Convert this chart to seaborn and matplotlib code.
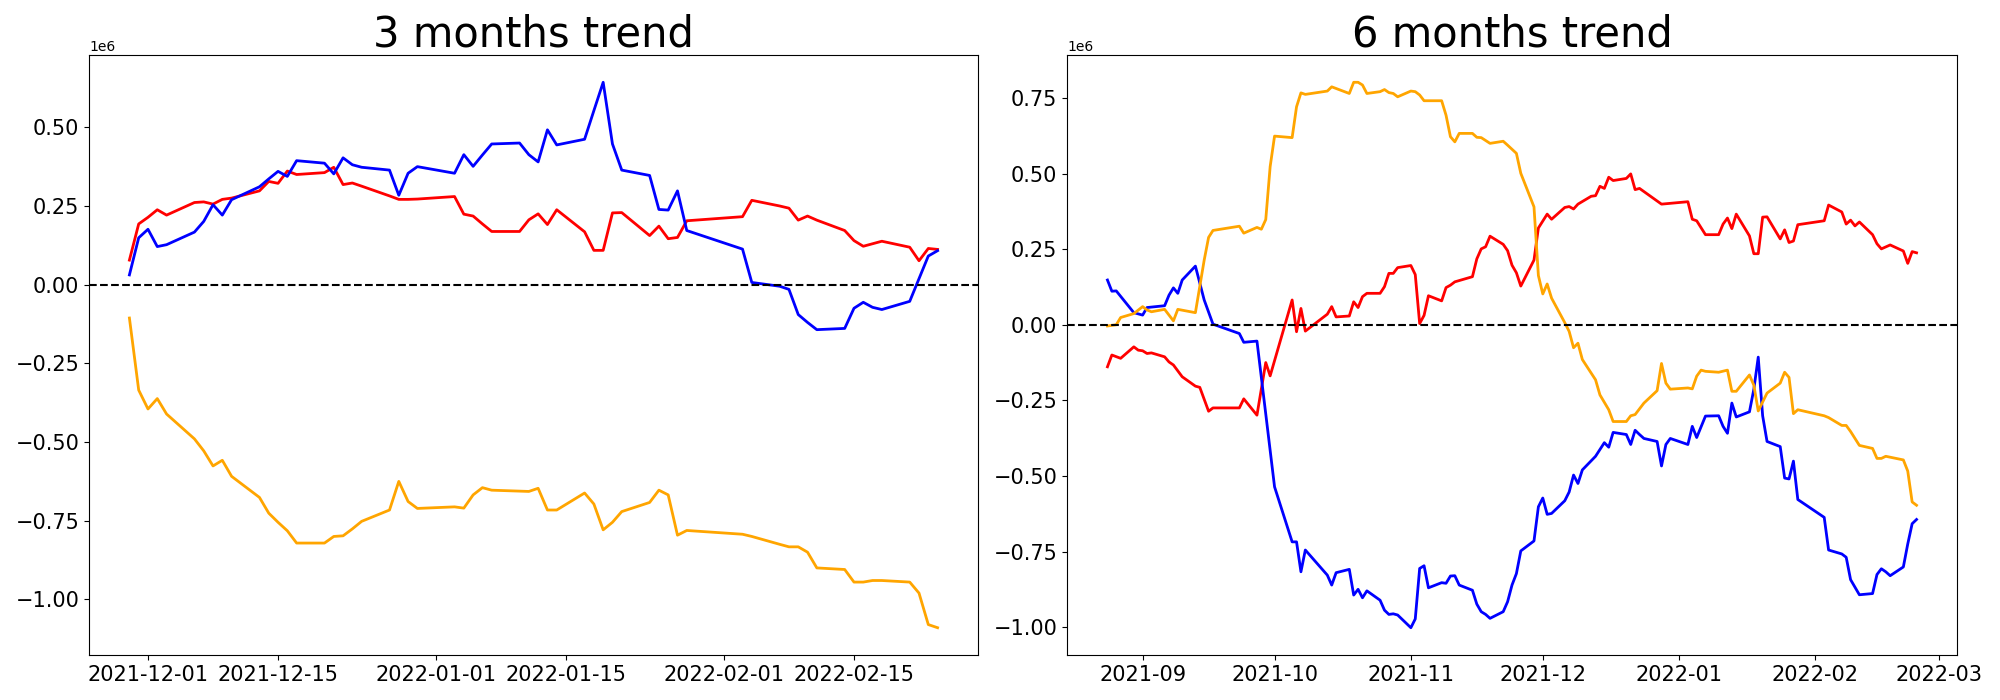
import pandas as pd
import numpy as np
import matplotlib.pyplot as plt
import seaborn as sns

# values in millions; x given as days counted from the first date of each window

# ---- 3 months window ----
start_3m = '2021-11-29'
days_3m = [0, 1, 2, 3, 4, 7, 8, 9, 10, 11, 14, 15, 16, 17, 18, 21, 22, 23, 24, 25,
           28, 29, 30, 31, 35, 36, 37, 38, 39, 42, 43, 44, 45, 46, 49, 50, 51, 52, 53,
           56, 57, 58, 59, 60, 66, 67, 70, 71, 72, 73, 74, 77, 78, 79, 80, 81, 84, 85, 86, 87]
red_3m = [0.078, 0.193, 0.214, 0.238, 0.221, 0.261, 0.263, 0.256, 0.271, 0.275,
          0.298, 0.328, 0.322, 0.361, 0.350, 0.356, 0.373, 0.318, 0.323, 0.313,
          0.282, 0.271, 0.271, 0.272, 0.280, 0.224, 0.218, 0.193, 0.169,
          0.169, 0.206, 0.225, 0.191, 0.238, 0.168, 0.109, 0.109, 0.228, 0.229,
          0.156, 0.186, 0.146, 0.150, 0.203, 0.216, 0.268,
          0.250, 0.243, 0.205, 0.218, 0.205, 0.172, 0.140, 0.122, 0.130, 0.138,
          0.119, 0.076, 0.115, 0.112]
blue_3m = [0.031, 0.149, 0.176, 0.121, 0.127, 0.167, 0.201, 0.254, 0.221, 0.270,
           0.311, 0.336, 0.360, 0.344, 0.394, 0.386, 0.352, 0.403, 0.381, 0.373,
           0.364, 0.284, 0.354, 0.375, 0.354, 0.413, 0.376, 0.412, 0.447,
           0.450, 0.413, 0.390, 0.492, 0.444, 0.462, 0.553, 0.643, 0.447, 0.364,
           0.347, 0.239, 0.237, 0.298, 0.172, 0.113, 0.007,
           -0.005, -0.015, -0.095, -0.120, -0.143, -0.139, -0.075, -0.056, -0.072, -0.079,
           -0.053, 0.019, 0.091, 0.108]
orange_3m = [-0.106, -0.335, -0.395, -0.362, -0.411, -0.490, -0.528, -0.576, -0.558, -0.609,
             -0.676, -0.726, -0.755, -0.782, -0.821, -0.821, -0.800, -0.798, -0.776, -0.752,
             -0.716, -0.625, -0.689, -0.711, -0.706, -0.710, -0.668, -0.645, -0.653,
             -0.656, -0.657, -0.647, -0.716, -0.716, -0.662, -0.697, -0.779, -0.755, -0.721,
             -0.692, -0.653, -0.668, -0.796, -0.781, -0.793, -0.800,
             -0.825, -0.833, -0.833, -0.850, -0.900, -0.905, -0.945, -0.945, -0.940, -0.940,
             -0.945, -0.980, -1.080, -1.090]

# ---- 6 months window ----
start_6m = '2021-08-24'
red_6m_days = [0, 1, 3, 6, 7, 8, 9, 10, 13, 14, 15, 17, 20, 21, 23, 24, 30, 31, 34, 36, 37,
               42, 43, 44, 45, 50, 51, 52, 55, 56, 57, 58, 59, 62, 63, 64, 65, 66, 69, 70,
               71, 72, 73, 76, 77, 78, 79, 83, 84, 85, 86, 87, 90, 91, 92, 93, 94, 97, 98,
               100, 101, 104, 105, 106, 107, 110, 111, 112, 113, 114, 115, 118, 119, 120, 121,
               126, 132, 133, 134, 136, 139, 140, 141, 142, 143, 146, 147, 148, 149, 150,
               153, 154, 155, 156, 157, 163, 164, 167, 168, 169, 170, 171, 174, 175, 176,
               178, 181, 182, 183, 184]
red_6m = [-0.139, -0.100, -0.111, -0.073, -0.084, -0.086, -0.095, -0.093, -0.106, -0.123,
          -0.133, -0.172, -0.203, -0.207, -0.286, -0.275, -0.275, -0.245, -0.299, -0.125, -0.169,
          0.082, -0.023, 0.054, -0.021, 0.035, 0.060, 0.026, 0.029, 0.076, 0.057, 0.093, 0.104,
          0.104, 0.126, 0.170, 0.170, 0.189, 0.196, 0.166,
          0.004, 0.031, 0.096, 0.079, 0.123, 0.131, 0.142, 0.159, 0.218, 0.251, 0.258, 0.293,
          0.266, 0.245, 0.197, 0.172, 0.128, 0.214, 0.320,
          0.366, 0.349, 0.388, 0.391, 0.383, 0.399, 0.425, 0.427, 0.458, 0.451, 0.488, 0.477,
          0.484, 0.499, 0.447, 0.451,
          0.399, 0.407, 0.349, 0.344, 0.298, 0.298, 0.333, 0.353, 0.318, 0.366, 0.294, 0.235,
          0.235, 0.356, 0.357,
          0.284, 0.314, 0.272, 0.277, 0.331, 0.344, 0.396, 0.373, 0.333, 0.346, 0.327, 0.340,
          0.298, 0.268, 0.251,
          0.264, 0.244, 0.203, 0.242, 0.238]

blue_6m_days = [0, 1, 2, 6, 8, 9, 13, 14, 15, 16, 17, 20, 22, 24, 30, 31, 34, 38,
                42, 43, 44, 45, 50, 51, 52, 55, 56, 57, 58, 59, 62, 63, 64, 65, 66, 69, 70,
                71, 72, 73, 76, 77, 78, 79, 80, 83, 84, 85, 86, 87, 90, 91, 92, 93, 94, 97,
                98, 99, 100, 101, 104, 105, 106, 107, 108, 111, 113, 114, 115, 118, 119, 120,
                121, 122, 125, 126, 127, 128, 132, 133, 134, 136, 139, 140, 141, 142, 143,
                146, 147, 148, 149, 150, 153, 154, 155, 156, 157, 163, 164, 167, 168, 169,
                171, 174, 175, 176, 177, 178, 181, 182, 183, 184]
blue_6m = [0.148, 0.111, 0.112, 0.040, 0.032, 0.057, 0.063, 0.098, 0.122, 0.104, 0.148,
           0.194, 0.082, 0.002, -0.029, -0.058, -0.054, -0.536,
           -0.718, -0.718, -0.817, -0.745, -0.828, -0.861, -0.820, -0.809, -0.894, -0.875,
           -0.903, -0.880, -0.911, -0.944, -0.958, -0.956, -0.960, -1.002, -0.973,
           -0.806, -0.797, -0.870, -0.853, -0.855, -0.831, -0.830, -0.861, -0.878, -0.924,
           -0.949, -0.958, -0.971, -0.949, -0.916, -0.861, -0.823, -0.748, -0.715,
           -0.602, -0.573, -0.627, -0.624, -0.582, -0.553, -0.497, -0.525, -0.480, -0.435,
           -0.390, -0.405, -0.356, -0.363, -0.396, -0.349,
           -0.363, -0.376, -0.386, -0.467, -0.396, -0.376, -0.396, -0.336, -0.373, -0.302,
           -0.301, -0.336, -0.359, -0.259, -0.305,
           -0.288, -0.213, -0.107, -0.301, -0.386, -0.403, -0.507, -0.510, -0.451, -0.578,
           -0.637, -0.745, -0.758, -0.769, -0.843,
           -0.893, -0.889, -0.826, -0.807, -0.817, -0.830, -0.801, -0.725, -0.658, -0.644]

orange_6m_days = [0, 2, 3, 6, 8, 9, 10, 13, 15, 16, 20, 22, 23, 24, 30, 31, 34, 35, 36, 37, 38,
                  42, 43, 44, 45, 50, 51, 55, 56, 57, 58, 59, 62, 63, 64, 65, 66, 69, 70,
                  71, 72, 76, 77, 78, 79, 80, 83, 84, 85, 87, 90, 91, 93, 94, 97,
                  98, 99, 100, 101, 104, 105, 106, 107, 108, 111, 112, 114, 115, 118, 119, 120,
                  122, 125, 126, 127, 128, 132, 133, 134, 135, 136, 139, 141, 142, 143,
                  146, 147, 148, 150, 153, 154, 155, 156, 157, 163, 164, 167, 168, 169,
                  171, 174, 175, 176, 177, 178, 181, 182, 183, 184]
orange_6m = [-0.004, 0.000, 0.024, 0.037, 0.060, 0.049, 0.043, 0.051, 0.013, 0.051,
             0.040, 0.214, 0.289, 0.312, 0.326, 0.303, 0.322, 0.316, 0.348, 0.523, 0.624,
             0.619, 0.721, 0.767, 0.762, 0.773, 0.787, 0.765, 0.802, 0.802, 0.793, 0.765,
             0.771, 0.778, 0.768, 0.765, 0.754, 0.773, 0.771,
             0.760, 0.741, 0.741, 0.693, 0.622, 0.605, 0.633, 0.633, 0.620, 0.619, 0.600,
             0.607, 0.594, 0.567, 0.501, 0.390,
             0.163, 0.102, 0.135, 0.088, 0.007, -0.022, -0.076, -0.061, -0.115, -0.182,
             -0.232, -0.281, -0.320, -0.320, -0.301, -0.297,
             -0.259, -0.218, -0.128, -0.193, -0.213, -0.209, -0.212, -0.170, -0.150, -0.154,
             -0.157, -0.150, -0.220, -0.220,
             -0.166, -0.200, -0.285, -0.226, -0.193, -0.157, -0.174, -0.294, -0.281, -0.301,
             -0.307, -0.333, -0.333, -0.353,
             -0.399, -0.409, -0.442, -0.442, -0.435, -0.438, -0.447, -0.484, -0.586, -0.597]


def to_dates(start, days):
    return pd.Timestamp(start) + pd.to_timedelta(days, unit='D')


fig, axes = plt.subplots(1, 2, figsize=(20, 7), dpi=100)

panels = [
    (axes[0], '3 months trend', [
        (to_dates(start_3m, days_3m), red_3m, 'red'),
        (to_dates(start_3m, days_3m), blue_3m, 'blue'),
        (to_dates(start_3m, days_3m), orange_3m, 'orange'),
    ]),
    (axes[1], '6 months trend', [
        (to_dates(start_6m, red_6m_days), red_6m, 'red'),
        (to_dates(start_6m, blue_6m_days), blue_6m, 'blue'),
        (to_dates(start_6m, orange_6m_days), orange_6m, 'orange'),
    ]),
]

for ax, title, series in panels:
    for dates, vals, col in series:
        sns.lineplot(x=dates, y=np.array(vals) * 1e6, color=col, linewidth=2,
                     estimator=None, ax=ax)
    ax.axhline(0, color='black', linestyle='--', linewidth=1.5)
    ax.set_title(title, fontsize=30)
    ax.tick_params(labelsize=15)
    ax.set_xlabel('')
    ax.set_ylabel('')

axes[0].set_position([0.0445, 0.0643, 0.4445, 0.8571])
axes[1].set_position([0.5335, 0.0643, 0.445, 0.8571])

plt.savefig('out.png', dpi=100)
